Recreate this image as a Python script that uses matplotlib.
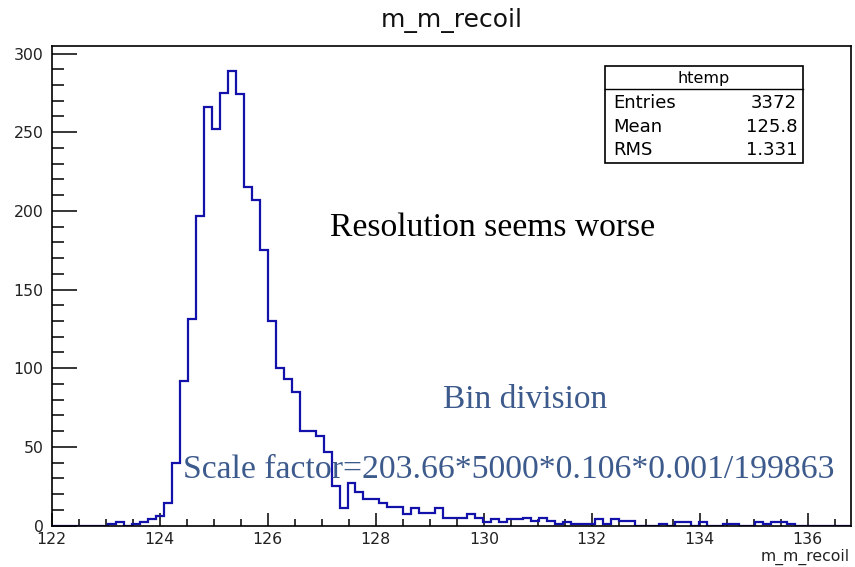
import numpy as np
import matplotlib
matplotlib.use("Agg")
import matplotlib.pyplot as plt
from matplotlib.patches import Rectangle
from matplotlib.ticker import MultipleLocator

# ---------------- data ----------------
hist_name = "htemp"
hist_title = "m_m_recoil"
x_title = "m_m_recoil"
hist_lo = 122.0
hist_hi = 136.8
counts = [
    0, 0, 0, 0, 0, 0, 0, 1, 2, 0,          # 0-9
    1, 2, 4, 6, 14, 40, 92, 131, 197, 266,  # 10-19
    252, 275, 289, 274, 215, 207, 175, 130, 100, 93,  # 20-29
    85, 60, 60, 57, 47, 25, 11, 27, 21, 17,  # 30-39
    17, 14, 12, 12, 7, 11, 8, 8, 11, 5,      # 40-49
    5, 5, 7, 5, 2, 4, 2, 4, 4, 5,            # 50-59
    3, 5, 3, 1, 2, 1, 1, 1, 4, 1,            # 60-69
    4, 3, 3, 0, 0, 0, 1, 0, 2, 2,            # 70-79
    0, 2, 0, 0, 1, 1, 0, 0, 2, 1,            # 80-89
    2, 2, 1, 0, 0, 0, 0, 0, 0, 0,            # 90-99
]
stat_labels = ["Entries", "Mean", "RMS"]
stat_values = ["3372", "125.8", "1.331"]
annotations = ["Resolution seems worse", "Bin division",
               "Scale factor=203.66*5000*0.106*0.001/199863"]
x_major = 2
x_minor = 0.5
y_major = 50
y_minor = 10
y_max = 305

# ---------------- figure ----------------
W, H = 855, 567
fig = plt.figure(figsize=(W / 100, H / 100), dpi=100)

def fx(px):
    return px / W

def fy(py):
    return 1 - py / H

ax_l, ax_r, ax_t, ax_b = 51.8, 851.0, 45.7, 525.5
ax = fig.add_axes([fx(ax_l), fy(ax_b), fx(ax_r - ax_l), (ax_b - ax_t) / H])

edges = np.linspace(hist_lo, hist_hi, len(counts) + 1)
ax.stairs(counts, edges, color="#1212AA", linewidth=1.6, baseline=0, zorder=3)

ax.set_xlim(hist_lo, hist_hi)
ax.set_ylim(0, y_max)
ax.xaxis.set_major_locator(MultipleLocator(x_major))
ax.xaxis.set_minor_locator(MultipleLocator(x_minor))
ax.yaxis.set_major_locator(MultipleLocator(y_major))
ax.yaxis.set_minor_locator(MultipleLocator(y_minor))

ax.tick_params(axis="x", which="major", direction="in", length=9.5, width=1.1,
               labelsize=11.3, pad=5, top=False)
ax.tick_params(axis="x", which="minor", direction="in", length=5, width=1.1, top=False)
ax.tick_params(axis="y", which="major", direction="in", length=18, width=1.1,
               labelsize=11.3, pad=6, right=False)
ax.tick_params(axis="y", which="minor", direction="in", length=8.5, width=1.1, right=False)
for lab in ax.get_xticklabels() + ax.get_yticklabels():
    lab.set_color("#222222")
for s in ax.spines.values():
    s.set_linewidth(1.2)
    s.set_zorder(4)

# title and axis title
fig.text(fx(451.5), fy(27), hist_title, ha="center", va="baseline",
         fontsize=18, color="#111111")
fig.text(fx(850), fy(561), x_title, ha="right", va="baseline",
         fontsize=11.3, color="#222222")

# stats box
bx0, bx1, by0, by1, bdiv = 605, 803, 66, 163, 89
fig.patches.append(Rectangle((fx(bx0), fy(by1)), fx(bx1 - bx0), (by1 - by0) / H,
                             transform=fig.transFigure, facecolor="white",
                             edgecolor="black", linewidth=1.2, zorder=5))
fig.lines.append(plt.Line2D([fx(bx0), fx(bx1)], [fy(bdiv), fy(bdiv)],
                            transform=fig.transFigure, color="black",
                            linewidth=1.0, zorder=6))
fig.text(fx((bx0 + bx1) / 2), fy(78), hist_name, ha="center", va="center",
         fontsize=11.5, zorder=7)
row_y = [103.5, 127, 150]
for lab, val, yy in zip(stat_labels, stat_values, row_y):
    fig.text(fx(613), fy(yy), lab, ha="left", va="center", fontsize=13, zorder=7)
    fig.text(fx(797), fy(yy), val, ha="right", va="center", fontsize=13, zorder=7)

# annotations
serif = ["Liberation Serif", "DejaVu Serif"]
fig.text(fx(330), fy(236), annotations[0], ha="left", va="baseline",
         fontsize=24.2, family=serif, color="black", zorder=8)
fig.text(fx(443), fy(407.5), annotations[1], ha="left", va="baseline",
         fontsize=24, family=serif, color="#3D5A8C", zorder=8)
fig.text(fx(183), fy(478.5), annotations[2], ha="left", va="baseline",
         fontsize=24.3, family=serif, color="#3D5A8C", zorder=8)

fig.savefig("out.png", dpi=100)
